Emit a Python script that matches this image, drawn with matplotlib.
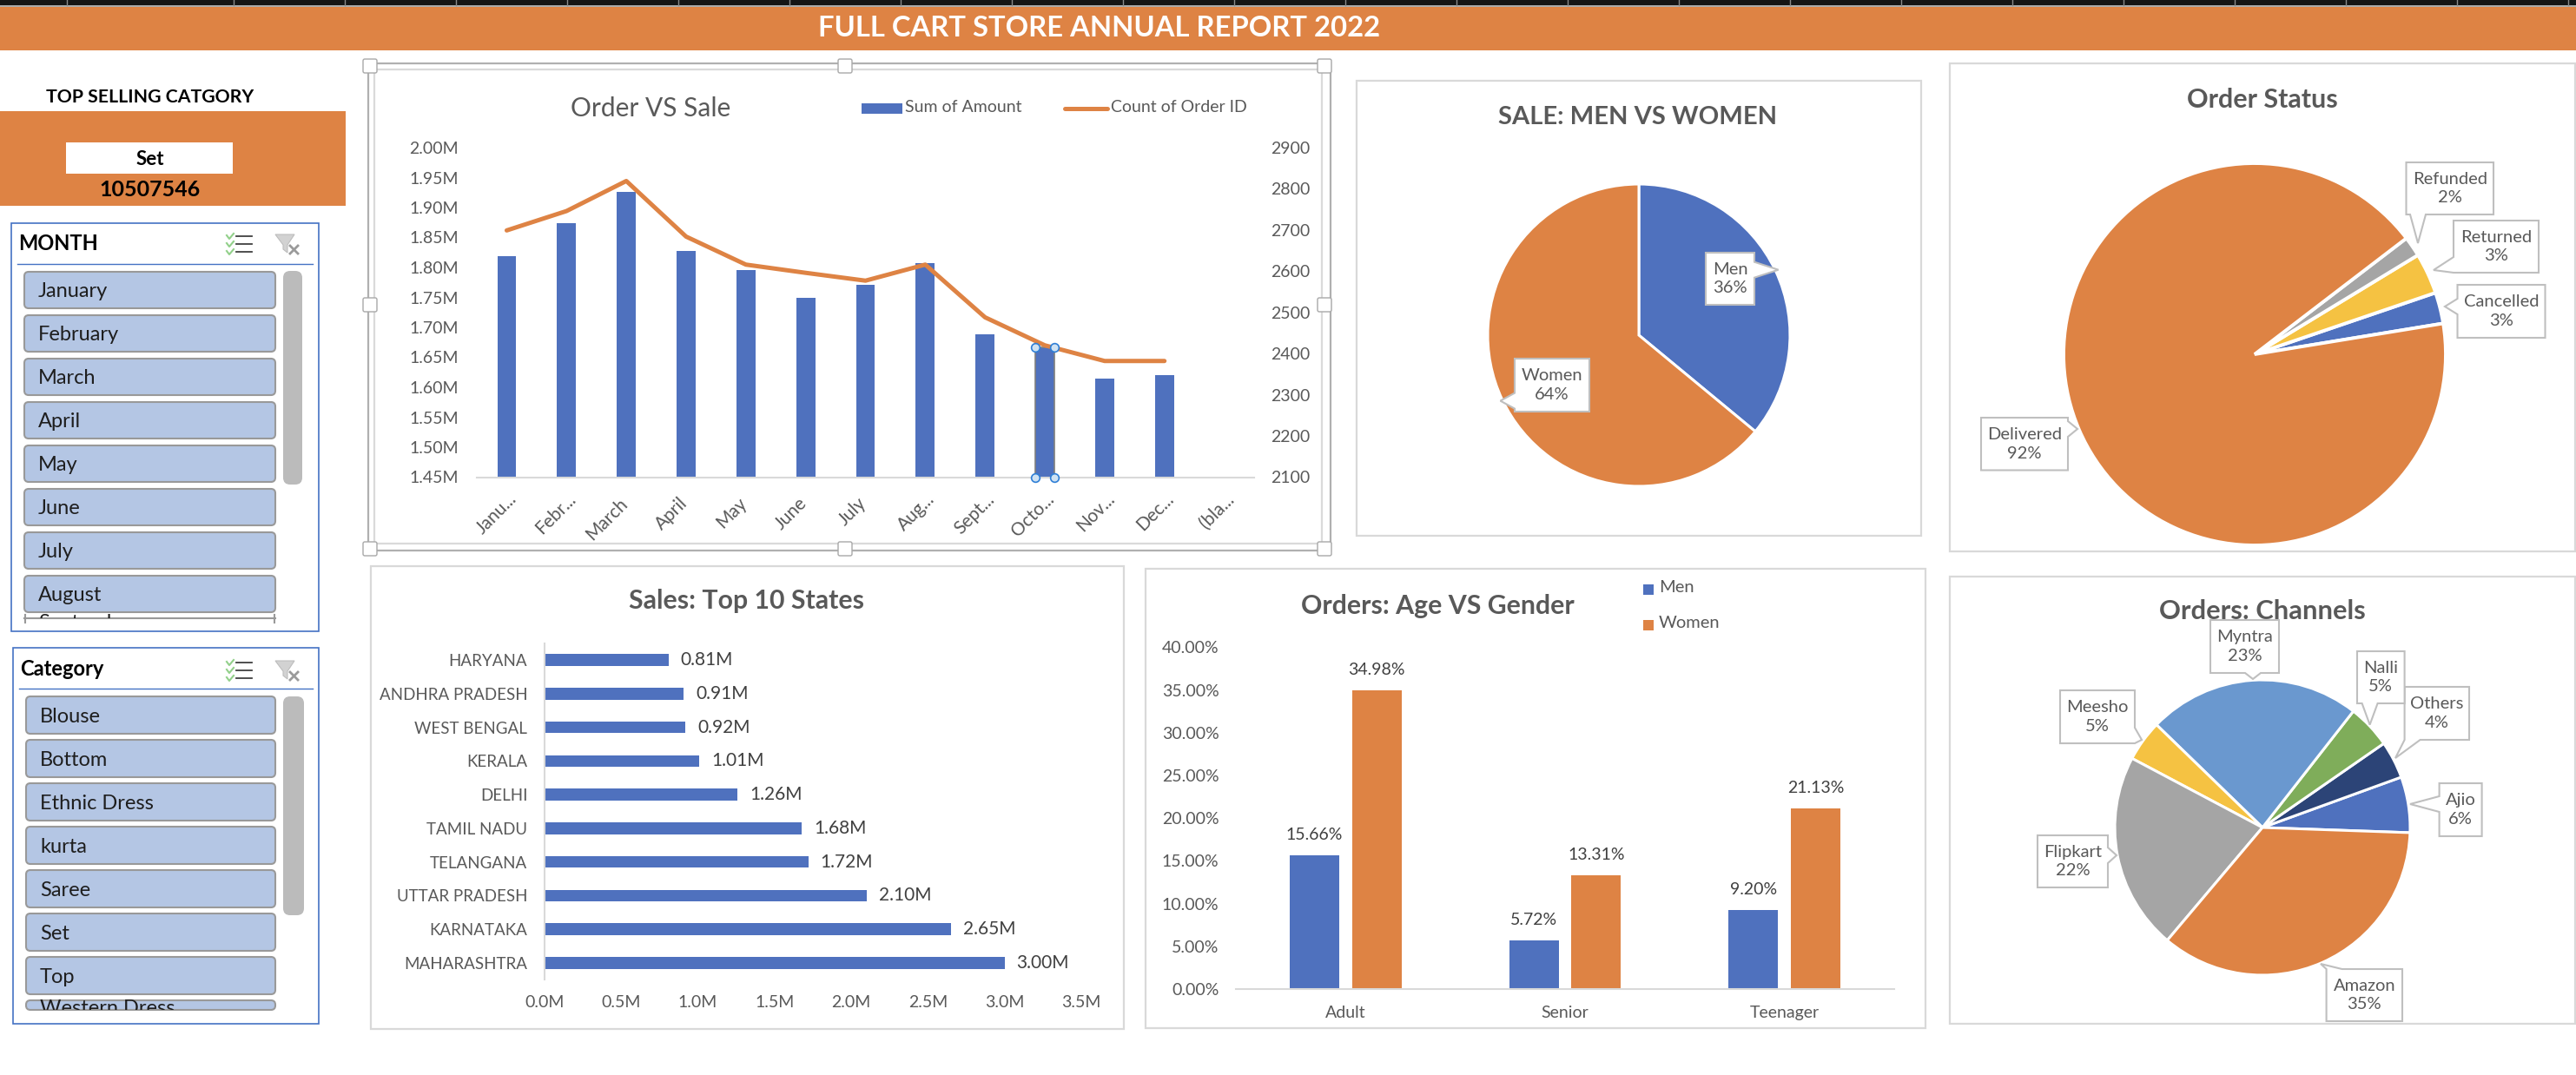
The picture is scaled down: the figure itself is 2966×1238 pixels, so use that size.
#!/usr/bin/env python3
# -*- coding: utf-8 -*-
"""
Full Cart store annual report dashboard
"""

import matplotlib
matplotlib.use('Agg')
import matplotlib.pyplot as plt
import numpy as np
from matplotlib.patches import FancyBboxPatch, Polygon, Rectangle
from matplotlib.transforms import ScaledTranslation

plt.rcParams['font.family'] = ['Lato', 'DejaVu Sans']

W, H = 2966, 1238

BLUE = '#4F71BE'
ORANGE = '#DE8344'
GRAY = '#A5A5A5'
YELLOW = '#F5C242'
TXT = '#595959'
FRAME = '#D9D9D9'

# ---- data ----
month_axis = ['Janu...', 'Febr...', 'March', 'April', 'May', 'June', 'July', 'Aug...',
              'Sept...', 'Octo...', 'Nov...', 'Dec...', '(bla...']
sum_amount = [1.819, 1.874, 1.926, 1.828, 1.796, 1.749, 1.771, 1.807, 1.688, 1.666, 1.614, 1.621]
count_orders = [2699, 2746, 2819, 2684, 2616, 2596, 2577, 2616, 2488, 2420, 2382, 2382]

states = ['MAHARASHTRA', 'KARNATAKA', 'UTTAR PRADESH', 'TELANGANA', 'TAMIL NADU',
          'DELHI', 'KERALA', 'WEST BENGAL', 'ANDHRA PRADESH', 'HARYANA']
state_sales = [3.00, 2.65, 2.10, 1.72, 1.68, 1.26, 1.01, 0.92, 0.91, 0.81]

age_groups = ['Adult', 'Senior', 'Teenager']
men_orders = [15.66, 5.72, 9.20]
women_orders = [34.98, 13.31, 21.13]

gender_names = ['Men', 'Women']
gender_values = [36, 64]

status_names = ['Cancelled', 'Returned', 'Refunded', 'Delivered']
status_values = [2.64, 3.47, 1.70, 92.19]
status_pct = [3, 3, 2, 92]

channel_names = ['Ajio', 'Others', 'Nalli', 'Myntra', 'Meesho', 'Flipkart', 'Amazon']
channel_values = [6.1, 4.1, 4.8, 23.3, 4.5, 21.6, 35.6]
channel_pct = [6, 4, 5, 23, 5, 22, 35]

slicer_months = ['January', 'February', 'March', 'April', 'May', 'June', 'July', 'August', 'September']
slicer_categories = ['Blouse', 'Bottom', 'Ethnic Dress', 'kurta', 'Saree', 'Set', 'Top', 'Western Dress']

top_category = 'Set'
top_category_sales = '10507546'

# ---- page ----
fig = plt.figure(figsize=(W / 100, H / 100), dpi=100, facecolor='white')


def px_axes(x0, y0, x1, y1, zorder=1):
    """axes from pixel box, y counted from the top"""
    ax = fig.add_axes([x0 / W, 1 - y1 / H, (x1 - x0) / W, (y1 - y0) / H], zorder=zorder)
    ax.patch.set_alpha(0)
    return ax


bg = px_axes(0, 0, W, H, zorder=0)
fg = px_axes(0, 0, W, H, zorder=10)
for a in (bg, fg):
    a.set_xlim(0, W)
    a.set_ylim(H, 0)
    a.axis('off')


def box(ax, x0, y0, x1, y1, face='white', edge=FRAME, lw=1.6, z=1):
    ax.add_patch(Rectangle((x0, y0), x1 - x0, y1 - y0, facecolor=face, edgecolor=edge, linewidth=lw, zorder=z))


def callout(x0, y0, x1, y1, tip, text, size=14.5):
    """data label box with its little tail"""
    tx, ty = tip
    dx = max(x0 - tx, tx - x1, 0)
    dy = max(y0 - ty, ty - y1, 0)
    b = 9
    pts = [(x0, y0), (x1, y0), (x1, y1), (x0, y1)]
    if dy >= dx * 0.8:
        c = min(max(tx, x0 + b), x1 - b)
        if ty > y1:
            pts = [(x0, y0), (x1, y0), (x1, y1), (c + b, y1), tip, (c - b, y1), (x0, y1)]
        else:
            pts = [(x0, y0), (c - b, y0), tip, (c + b, y0), (x1, y0), (x1, y1), (x0, y1)]
    else:
        c = min(max(ty, y0 + b), y1 - b)
        if tx > x1:
            pts = [(x0, y0), (x1, y0), (x1, c - b), tip, (x1, c + b), (x1, y1), (x0, y1)]
        else:
            pts = [(x0, y0), (x1, y0), (x1, y1), (x0, y1), (x0, c + b), tip, (x0, c - b)]
    fg.add_patch(Polygon(pts, closed=True, facecolor='white', edgecolor='#BFBFBF', linewidth=1.5, zorder=3))
    fg.text((x0 + x1) / 2, (y0 + y1) / 2, text, ha='center', va='center', fontsize=size,
            color=TXT, linespacing=1.33, zorder=4)


# header band
bg.add_patch(Rectangle((0, 0), W, 6, facecolor='#151515', edgecolor='none'))
bg.add_patch(Rectangle((0, 6), W, 2, facecolor='#ABABAB', edgecolor='none'))
for x in [77, 269] + list(range(397, W, 128)):
    bg.plot([x, x], [0, 6], color='#8A8A8A', lw=1)
bg.add_patch(Rectangle((0, 8), W, 50, facecolor=ORANGE, edgecolor='none'))
bg.text(1266, 33, 'FULL CART STORE ANNUAL REPORT 2022', ha='center', va='center',
        fontsize=23.6, fontweight='bold', color='white')

# top category card
bg.text(173, 112, 'TOP SELLING CATGORY', ha='center', va='center', fontsize=15.3, fontweight='bold', color='black')
bg.add_patch(Rectangle((0, 128), 398, 109, facecolor=ORANGE, edgecolor='none'))
bg.add_patch(Rectangle((76, 164), 192, 36, facecolor='white', edgecolor='none'))
bg.text(173, 183, top_category, ha='center', va='center', fontsize=16, fontweight='bold', color='black')
bg.text(173, 219, top_category_sales, ha='center', va='center', fontsize=18, fontweight='bold', color='black')


def slicer_icons(yc):
    for y in (yc - 9, yc, yc + 9):
        bg.plot([272, 290], [y, y], color='#404040', lw=1.3)
        bg.plot([261, 264, 269], [y - 1, y + 3, y - 3], color='#92D08A', lw=1.5)
    bg.add_patch(Polygon([(317, yc - 11), (339, yc - 11), (331, yc + 1), (331, yc + 10), (326, yc + 6), (326, yc + 1)],
                         closed=True, facecolor='#D2D2D2', edgecolor='#BDBDBD', lw=0.8))
    bg.plot([334, 343], [yc + 2, yc + 11], color='#9A9A9A', lw=2)
    bg.plot([343, 334], [yc + 2, yc + 11], color='#9A9A9A', lw=2)


def slicer(x0, y0, x1, y1, title, title_y, rule_y, rule_x0, items, item_x0, item_tops, item_h, bar):
    box(bg, x0, y0, x1, y1, edge='#4472C4', lw=1.2)
    bg.text(x0 + 8.5, title_y, title, ha='left', va='center', fontsize=17, fontweight='bold', color='black')
    bg.plot([rule_x0, 360], [rule_y, rule_y], color='#4472C4', lw=1)
    slicer_icons(title_y + 1)
    for name, top in zip(items, item_tops):
        bg.add_patch(FancyBboxPatch((item_x0 + 5, top + 5), 317 - item_x0 - 10, item_h - 10,
                                    boxstyle='round,pad=5', facecolor='#B4C6E4', edgecolor='#999999', lw=1.5))
        bg.text(item_x0 + 16, top + item_h / 2 + 2, name, ha='left', va='center', fontsize=17, color='#1E1E1E')
    bg.add_patch(FancyBboxPatch((bar[0] + 8, bar[1] + 8), bar[2] - bar[0] - 16, bar[3] - bar[1] - 16,
                                boxstyle='round,pad=8', facecolor='#BBBBBB', edgecolor='none'))


# slicers: last item of each list only peeks out of the scroll area
month_tops = [313 + 50 * i for i in range(8)]
slicer(12.5, 256.5, 367, 727, 'MONTH', 280, 303.5, 20, slicer_months[:8], 28, month_tops, 42, (326, 312, 348, 558))
t = bg.text(44, 717, slicer_months[8], ha='left', va='center', fontsize=17, color='#1E1E1E', clip_on=True)
t.set_clip_path(Rectangle((20, 706), 320, 6, transform=bg.transData))
bg.plot([28, 317], [712, 712], color='#999999', lw=1.5)
bg.plot([29, 29], [708, 717], color='#999999', lw=1.5)
bg.plot([316, 316], [708, 717], color='#999999', lw=1.5)

cat_tops = [802 + 50 * i for i in range(7)]
slicer(14.5, 746, 367, 1179, 'Category', 771, 793, 22, slicer_categories[:7], 30, cat_tops, 43, (326, 802, 350, 1054))
bg.add_patch(FancyBboxPatch((35, 1157), 277, 1, boxstyle='round,pad=5', facecolor='#B4C6E4', edgecolor='#999999', lw=1.5))
t = bg.text(46, 1162, slicer_categories[7], ha='left', va='center', fontsize=17, color='#1E1E1E', zorder=5, clip_on=True)
t.set_clip_path(Rectangle((20, 1150), 320, 13, transform=bg.transData))

# ---- Order VS Sale ----
box(bg, 424, 73, 1532, 634, edge='#B0B0B0', lw=1.6)
box(bg, 431, 80, 1522, 626, edge='#DADADA', lw=1.6)
for hx in (426, 973, 1525):
    for hy in (76, 351, 632):
        if hx == 973 and hy == 351:
            continue
        bg.add_patch(FancyBboxPatch((hx - 6, hy - 6), 12, 12, boxstyle='round,pad=2', facecolor='white',
                                    edgecolor='#A8A8A8', lw=1))

ax = px_axes(549, 170, 1444, 549.5, zorder=2)
xpos = np.arange(len(sum_amount))
bars = ax.bar(xpos, sum_amount, width=0.317, color=BLUE, zorder=2)
ax.set_xlim(-0.5, len(month_axis) - 0.5)
ax.set_ylim(1.45, 2.0)
ax.set_yticks(np.arange(1.45, 2.001, 0.05))
ax.set_yticklabels([f'{v:.2f}M' for v in np.arange(1.45, 2.001, 0.05)])
ax.set_xticks(np.arange(len(month_axis)))
ax.set_xticklabels(month_axis, rotation=45, ha='right', va='center', rotation_mode='anchor')
ax.tick_params(axis='y', length=0, pad=15, labelsize=14, labelcolor=TXT)
ax.tick_params(axis='x', length=0, pad=16, labelsize=15, labelcolor=TXT)
# cut-off names sit further right and higher than the full ones
for lab in ax.get_xticklabels():
    if '...' in lab.get_text():
        shift = ScaledTranslation(8 / 100, 0, fig.dpi_scale_trans)
    else:
        shift = ScaledTranslation(-2 / 100, -5 / 100, fig.dpi_scale_trans)
    lab.set_transform(lab.get_transform() + shift)
for s in ('top', 'left', 'right'):
    ax.spines[s].set_visible(False)
ax.spines['bottom'].set_color(FRAME)
ax.spines['bottom'].set_linewidth(1.5)

ax2 = ax.twinx()
ax2.patch.set_alpha(0)
ax2.plot(xpos, count_orders, color=ORANGE, lw=3.6, solid_capstyle='round', zorder=3)
# selected october bar with its handles
sel = month_axis.index('Octo...')
bars[sel].set_edgecolor('#7F7F7F')
bars[sel].set_linewidth(1.2)
for sx in (sel - 0.158, sel + 0.158):
    ax2.plot([sx, sx], [1.45, sum_amount[sel]], ls='none', marker='o', ms=7, mfc='#CFE2F3', mec='#2F7FD6', mew=1.2,
             transform=ax.transData, clip_on=False, zorder=5)
ax2.set_ylim(2100, 2900)
ax2.set_yticks(np.arange(2100, 2901, 100))
ax2.tick_params(axis='y', length=0, pad=14, labelsize=14, labelcolor=TXT)
for s in ('top', 'left', 'right', 'bottom'):
    ax2.spines[s].set_visible(False)

fg.text(749, 125, 'Order VS Sale', ha='center', va='center', fontsize=21.5, color=TXT)
fg.add_patch(Rectangle((992, 119), 47, 12, facecolor=BLUE, edgecolor='none'))
fg.text(1042.5, 123.5, 'Sum of Amount', ha='left', va='center', fontsize=14, color=TXT)
fg.plot([1226, 1275], [125, 125], color=ORANGE, lw=3.6, solid_capstyle='round')
fg.text(1279, 123.5, 'Count of Order ID', ha='left', va='center', fontsize=14, color=TXT)

# ---- Sales: Top 10 States ----
box(bg, 427, 652, 1294, 1185)
fg.text(860, 692, 'Sales: Top 10 States', ha='center', va='center', fontsize=21.8, fontweight='bold', color=TXT)
ax = px_axes(626.7, 740.6, 1245, 1128.4, zorder=2)
ypos = np.arange(len(states))
ax.barh(ypos, state_sales, height=0.35, color=BLUE)
ax.set_xlim(0, 3.5)
ax.set_ylim(-0.5, len(states) - 0.5)
ax.set_yticks(ypos)
ax.set_yticklabels(states)
ax.set_xticks(np.arange(0, 3.51, 0.5))
ax.set_xticklabels([f'{v:.1f}M' for v in np.arange(0, 3.51, 0.5)])
ax.tick_params(axis='y', length=0, pad=14, labelsize=13.5, labelcolor=TXT)
ax.tick_params(axis='x', length=0, pad=13, labelsize=14, labelcolor=TXT)
for s in ('top', 'right', 'bottom'):
    ax.spines[s].set_visible(False)
ax.spines['left'].set_color(FRAME)
ax.spines['left'].set_linewidth(1.5)
for y, v in zip(ypos, state_sales):
    ax.annotate(f'{v:.2f}M', (v, y), xytext=(10, 0), textcoords='offset points', va='center', ha='left',
                fontsize=15, color='#404040')

# ---- Orders: Age VS Gender ----
box(bg, 1319, 655, 2217, 1184)
fg.text(1655, 698, 'Orders: Age VS Gender', ha='center', va='center', fontsize=21.8, fontweight='bold', color=TXT)
fg.add_patch(Rectangle((1892, 673), 12, 12, facecolor=BLUE, edgecolor='none'))
fg.text(1910, 677, 'Men', ha='left', va='center', fontsize=14.5, color=TXT)
fg.add_patch(Rectangle((1892, 714), 12, 12, facecolor=ORANGE, edgecolor='none'))
fg.text(1910, 717.5, 'Women', ha='left', va='center', fontsize=14.5, color=TXT)
ax = px_axes(1423, 745.5, 2181, 1139, zorder=2)
xpos = np.arange(len(age_groups))
bw, off = 0.225, 0.142
ax.bar(xpos - off, men_orders, width=bw, color=BLUE)
ax.bar(xpos + off, women_orders, width=bw, color=ORANGE)
ax.set_xlim(-0.5, 2.5)
ax.set_ylim(0, 40)
ax.set_xticks(xpos)
ax.set_xticklabels(age_groups)
ax.set_yticks(np.arange(0, 41, 5))
ax.set_yticklabels([f'{v:.2f}%' for v in np.arange(0, 41, 5)])
ax.tick_params(axis='y', length=0, pad=14, labelsize=14, labelcolor=TXT)
ax.tick_params(axis='x', length=0, pad=14, labelsize=14, labelcolor=TXT)
for s in ('top', 'right', 'left'):
    ax.spines[s].set_visible(False)
ax.spines['bottom'].set_color(FRAME)
ax.spines['bottom'].set_linewidth(1.5)
for x, m, f in zip(xpos, men_orders, women_orders):
    ax.annotate(f'{m:.2f}%', (x - off, m), xytext=(0, 17), textcoords='offset points', ha='center', va='center',
                fontsize=14, color='#404040')
    ax.annotate(f'{f:.2f}%', (x + off, f), xytext=(0, 17), textcoords='offset points', ha='center', va='center',
                fontsize=14, color='#404040')


def pie_axes(cx, cy, r, values, colors, start, counterclock=True, edge=2.2):
    ax = px_axes(cx - r, cy - r, cx + r, cy + r, zorder=2)
    ax.pie(values, colors=colors, startangle=start, counterclock=counterclock, radius=1,
           wedgeprops={'edgecolor': 'white', 'linewidth': edge})
    ax.set_xlim(-1, 1)
    ax.set_ylim(-1, 1)
    for w in ax.patches:
        w.set_clip_on(False)


# ---- SALE: MEN VS WOMEN ----
box(bg, 1562, 93, 2212, 617)
fg.text(1886, 135, 'SALE: MEN VS WOMEN', ha='center', va='center', fontsize=21, fontweight='bold', color=TXT)
pie_axes(1887, 386, 174, gender_values, [BLUE, ORANGE], 90, counterclock=False)
gender_boxes = [((1964, 291, 2020, 351), (2047.6, 310.7)), ((1744, 413, 1830, 474), (1727.5, 461.6))]
for n, v, (b, tip) in zip(gender_names, gender_values, gender_boxes):
    callout(*b, tip, f'{n}\n{v}%')

# ---- Order Status ----
box(bg, 2245, 73, 2965, 635)
fg.text(2605, 115, 'Order Status', ha='center', va='center', fontsize=22, fontweight='bold', color=TXT)
pie_axes(2596, 408, 220, status_values, [BLUE, YELLOW, GRAY, ORANGE], 9.3, edge=2.8)
status_boxes = [((2829.5, 328, 2930.5, 389), (2815, 353)), ((2825, 254, 2923, 314), (2802, 311)),
                ((2770.5, 187, 2871, 247), (2784, 280)), ((2281, 481, 2381, 541.5), (2392, 494))]
for n, v, (b, tip) in zip(status_names, status_pct, status_boxes):
    callout(*b, tip, f'{n}\n{v}%')

# ---- Orders: Channels ----
box(bg, 2245, 664, 2965, 1178.6)
fg.text(2605, 703.6, 'Orders: Channels', ha='center', va='center', fontsize=22.2, fontweight='bold', color=TXT)
pie_axes(2605, 953, 170, channel_values, [BLUE, '#2C4477', '#7FAD5A', '#6A98CF', YELLOW, GRAY, ORANGE], -2)
channel_boxes = [((2808.6, 902, 2857.6, 963), (2775, 926)), ((2768.6, 791, 2843, 852), (2758, 873)),
                 ((2714, 750, 2768.6, 810), (2728.6, 834.6)), ((2545, 714, 2624, 775), (2594, 782)),
                 ((2372, 795, 2458, 856), (2466, 852)), ((2346, 962, 2427, 1022), (2437, 985)),
                 ((2678.6, 1116, 2766, 1176), (2672, 1110))]
for n, v, (b, tip) in zip(channel_names, channel_pct, channel_boxes):
    callout(*b, tip, f'{n}\n{v}%')

fig.savefig('out.png', dpi=100)
